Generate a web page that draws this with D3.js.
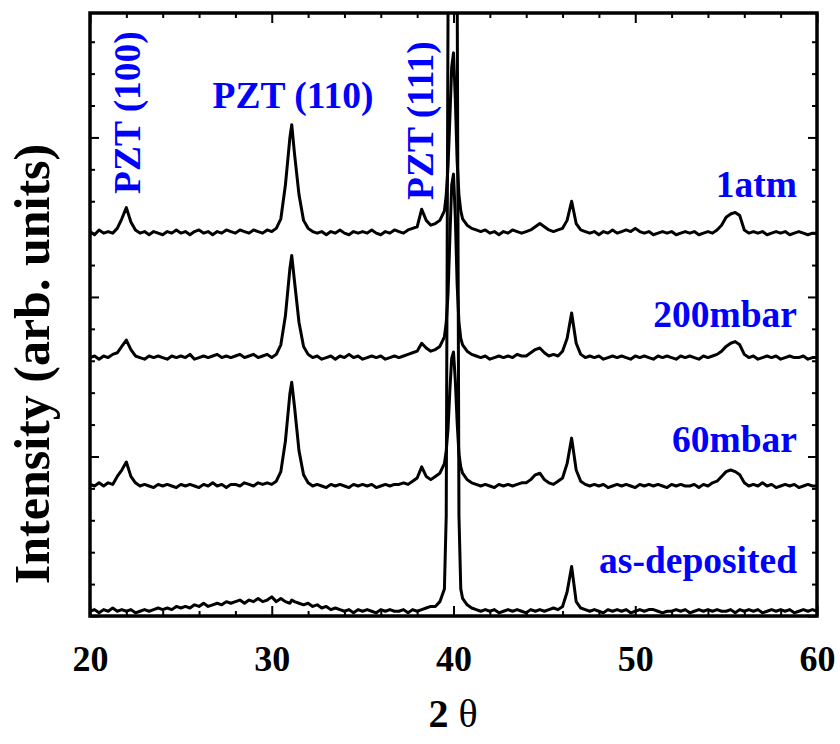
<!DOCTYPE html>
<html><head><meta charset="utf-8">
<script src="https://cdn.jsdelivr.net/npm/d3@7"></script>
<style>body{margin:0;background:#fff}</style>
</head><body>
<svg id="chart" width="840" height="744"></svg>
<script>
// 2-theta sampling grid (degrees), one row per degree
const twoTheta = [
  20,20.25,20.5,20.75, 21,21.25,21.5,21.75, 22,22.25,22.5,22.75, 23,23.25,23.5,23.75,
  24,24.25,24.5,24.75, 25,25.25,25.5,25.75, 26,26.25,26.5,26.75, 27,27.25,27.5,27.75,
  28,28.25,28.5,28.75, 29,29.25,29.5,29.75, 30,30.25,30.5,30.75,
  31,31.1,31.25,31.5,31.75,
  32,32.25,32.5,32.75, 33,33.25,33.5,33.75, 34,34.25,34.5,34.75, 35,35.25,35.5,35.75,
  36,36.25,36.5,36.75, 37,37.25,37.5,37.75, 38,38.25,38.5,38.75,
  39,39.25,39.5,39.6,39.7,39.8,39.9,
  40,40.1,40.2,40.3,40.4,40.5,40.75,
  41,41.25,41.5,41.75, 42,42.25,42.5,42.75, 43,43.25,43.5,43.75, 44,44.25,44.5,44.75,
  45,45.25,45.5,45.75, 46,46.25,46.5,46.75, 47,47.25,47.5,47.75, 48,48.25,48.5,48.75,
  49,49.25,49.5,49.75, 50,50.25,50.5,50.75, 51,51.25,51.5,51.75, 52,52.25,52.5,52.75,
  53,53.25,53.5,53.75, 54,54.25,54.5,54.75, 55,55.25,55.5,55.75, 56,56.25,56.5,56.75,
  57,57.25,57.5,57.75, 58,58.25,58.5,58.75, 59,59.25,59.5,59.75,
  60
];

// intensities above each curve's own baseline (arb. units)
const int1atm = [
  1,-1,2,0, 1,0,3,9, 16,7,2,0, 1,-1,1,0,
  -1,1,0,2, 0,1,-1,1, 2,0,1,-1, 1,0,2,1,
  0,2,1,0, 2,1,0,2, 1,3,9,30,
  60,68,50,24,8,
  3,1,0,1, -1,1,0,2, 0,-1,1,0, 1,0,2,0,
  -1,1,0,2, 1,0,2,3, 4,15,8,5,
  6,8,14,24,42,72,104,
  113,84,45,24,14,9,5,
  3,2,1,2, 0,1,-1,1, 0,2,1,0, 1,2,4,6,
  4,2,1,2, 3,8,20,6, 2,1,0,1, -1,1,0,2,
  0,1,2,1, 3,1,0,1, -1,0,1,0, 1,-1,0,1,
  0,1,-1,0, 1,0,2,5, 10,12,13,11, 2,0,1,0,
  1,-1,0,1, 0,1,-1,0, 1,0,-1,0,
  0
];
const int200mbar = [
  0,1,-1,1, 0,2,3,7, 11,5,1,0, -1,1,0,1,
  0,-1,1,0, 1,0,2,-1, 0,1,0,1, 2,0,1,0,
  1,2,0,1, 2,0,1,2, 0,2,8,26,
  56,64,48,22,7,
  2,0,1,-1, 0,1,-1,1, 0,2,0,1, -1,0,1,0,
  1,-1,0,1, 0,1,2,3, 4,9,6,4,
  5,7,13,22,40,75,108,
  115,88,46,22,12,8,4,
  2,1,0,1, -1,0,1,0, 1,0,2,1, 1,3,5,6,
  3,1,2,1, 4,12,28,9, 2,0,1,0, 1,-1,0,1,
  0,1,0,-1, 1,0,1,0, -1,1,0,1, 0,-1,1,0,
  1,0,-1,1, 0,1,2,4, 7,9,10,8, 2,0,1,-1,
  0,1,0,1, -1,0,1,0, 0,1,-1,0,
  0
];
const int60mbar = [
  1,0,2,0, 2,1,6,10, 15,6,2,0, 1,0,-1,1,
  0,1,0,-1, 1,0,1,0, -1,1,0,2, 0,1,-1,1,
  1,0,2,1, 0,2,1,2, 1,3,9,28,
  58,65,50,22,7,
  2,0,1,0, -1,1,0,1, 0,-1,1,0, 1,0,1,-1,
  0,1,0,1, 1,2,1,3, 5,12,6,4,
  6,8,14,22,36,60,80,
  84,66,40,20,12,8,4,
  2,1,0,1, 0,-1,1,0, 1,0,1,2, 2,4,7,8,
  4,2,1,3, 5,14,30,10, 3,1,0,1, 0,1,-1,0,
  1,0,1,0, -1,1,0,1, 0,1,0,-1, 1,0,1,0,
  0,1,-1,1, 0,2,3,6, 9,10,9,7, 2,0,1,0,
  2,0,1,-1, 0,1,0,1, -1,0,1,0,
  0
];
const intAsDeposited = [
  0,1,-1,1, 0,2,0,1, 0,1,-1,0, 1,0,1,2,
  1,2,1,3, 2,3,2,4, 3,5,3,4, 5,4,6,5,
  6,7,5,7, 6,8,6,7, 9,6,8,6,
  5,7,6,5,4,
  5,3,4,2, 3,1,2,1, 0,1,-1,1, 0,1,0,-1,
  1,0,1,0, 0,1,-1,1, 0,1,2,3,
  3,6,14,60,380,900,1200,
  1200,1000,400,60,14,8,4,
  2,1,0,1, 0,1,-1,0, 1,0,1,0, -1,1,0,1,
  0,1,2,1, 3,12,28,6, 2,1,0,1, 0,-1,1,0,
  1,0,1,-1, 0,1,0,1, 1,0,-1,0, 0,1,0,1,
  -1,0,1,0, 1,0,1,0, 0,1,-1,1, 0,1,0,1,
  -1,0,1,0, 1,0,1,-1, 0,1,0,1,
  0
];

const seriesNames = ["1atm", "200mbar", "60mbar", "as-deposited"];
const seriesValues = [int1atm, int200mbar, int60mbar, intAsDeposited];
const seriesOffsets = [240, 162, 81.5, 3];   // vertical stacking offsets
const xTickValues = [20, 30, 40, 50, 60];
const xMinorTicks = [22,24,26,28,32,34,36,38,42,44,46,48,52,54,56,58];
const yTickValues = [0, 100, 200, 300];
const yMinorTicks = [20,40,60,80,120,140,160,180,220,240,260,280,320,340,360];
const peakLabels = ["PZT (100)", "PZT (110)", "PZT (111)"];
const xLabel = "2 ";
const xLabelSym = "\u03B8";
const yLabel = "Intensity (arb. units)";

const FONT = "'Liberation Serif','Times New Roman',serif";
const BLUE = "#0000ff";

const svg = d3.select("#chart");
const L = 90, R = 817, T = 13, B = 616;
const x = d3.scaleLinear().domain([20, 60]).range([L, R]);
const y = d3.scaleLinear().domain([0, 378]).range([B, T]);

svg.append("defs").append("clipPath").attr("id", "clip")
  .append("rect").attr("x", L).attr("y", T).attr("width", R - L).attr("height", B - T);

// curves
const line = d3.line().x(d => x(d[0])).y(d => y(d[1]));
const plot = svg.append("g").attr("clip-path", "url(#clip)");
seriesValues.forEach((vals, i) => {
  const pts = twoTheta.map((t, k) => [t, vals[k] + seriesOffsets[i]]);
  plot.append("path").datum(pts)
    .attr("d", line)
    .attr("fill", "none")
    .attr("stroke", "#000")
    .attr("stroke-width", 3)
    .attr("stroke-linejoin", "round");
});

// axes (inward ticks)
function styleAxis(g) {
  g.select(".domain").remove();
  g.selectAll(".tick line").attr("stroke", "#000").attr("stroke-width", 2);
}
svg.append("g").attr("transform", `translate(0,${B})`)
  .call(d3.axisBottom(x).tickValues(xTickValues).tickSizeInner(-10).tickSizeOuter(0).tickPadding(29).tickFormat(d3.format("d")))
  .call(styleAxis)
  .call(g => g.selectAll("text").attr("font-family", FONT).attr("font-weight", "bold").attr("font-size", 36).attr("fill", "#000"));
svg.append("g").attr("transform", `translate(0,${B})`)
  .call(d3.axisBottom(x).tickValues(xMinorTicks).tickSizeInner(-5).tickSizeOuter(0).tickFormat(""))
  .call(styleAxis);
svg.append("g").attr("transform", `translate(0,${T})`)
  .call(d3.axisTop(x).tickValues(xTickValues).tickSizeInner(-10).tickSizeOuter(0).tickFormat(""))
  .call(styleAxis);
svg.append("g").attr("transform", `translate(0,${T})`)
  .call(d3.axisTop(x).tickValues(xMinorTicks).tickSizeInner(-5).tickSizeOuter(0).tickFormat(""))
  .call(styleAxis);
svg.append("g").attr("transform", `translate(${L},0)`)
  .call(d3.axisLeft(y).tickValues(yTickValues).tickSizeInner(-9).tickSizeOuter(0).tickFormat(""))
  .call(styleAxis);
svg.append("g").attr("transform", `translate(${L},0)`)
  .call(d3.axisLeft(y).tickValues(yMinorTicks).tickSizeInner(-5).tickSizeOuter(0).tickFormat(""))
  .call(styleAxis);
svg.append("g").attr("transform", `translate(${R},0)`)
  .call(d3.axisRight(y).tickValues(yTickValues).tickSizeInner(-9).tickSizeOuter(0).tickFormat(""))
  .call(styleAxis);
svg.append("g").attr("transform", `translate(${R},0)`)
  .call(d3.axisRight(y).tickValues(yMinorTicks).tickSizeInner(-5).tickSizeOuter(0).tickFormat(""))
  .call(styleAxis);

// frame
svg.append("rect").attr("x", L).attr("y", T).attr("width", R - L).attr("height", B - T)
  .attr("fill", "none").attr("stroke", "#000").attr("stroke-width", 3.5);

// peak labels
const lab = svg.append("g").attr("font-family", FONT).attr("font-weight", "bold").attr("fill", BLUE).attr("font-size", 37.5);
lab.append("text").attr("transform", "translate(140,194) rotate(-90)").text(peakLabels[0]);
lab.append("text").attr("x", 293).attr("y", 108).attr("text-anchor", "middle").text(peakLabels[1]);
lab.append("text").attr("transform", "translate(433,200) rotate(-90)").text(peakLabels[2]);

// series labels
const labY = [197, 327, 452, 573];
seriesNames.forEach((n, i) => {
  lab.append("text").attr("x", 797).attr("y", labY[i]).attr("text-anchor", "end").text(n);
});

// axis titles
const xt = svg.append("text").attr("x", 453).attr("y", 727).attr("text-anchor", "middle")
  .attr("font-family", FONT).attr("font-size", 40).attr("fill", "#000");
xt.append("tspan").attr("font-weight", "bold").text(xLabel);
xt.append("tspan").text(xLabelSym);

svg.append("text").attr("transform", "translate(49,364) rotate(-90)").attr("text-anchor", "middle")
  .attr("font-family", FONT).attr("font-weight", "bold").attr("font-size", 50).attr("fill", "#000")
  .text(yLabel);
</script>
</body></html>
